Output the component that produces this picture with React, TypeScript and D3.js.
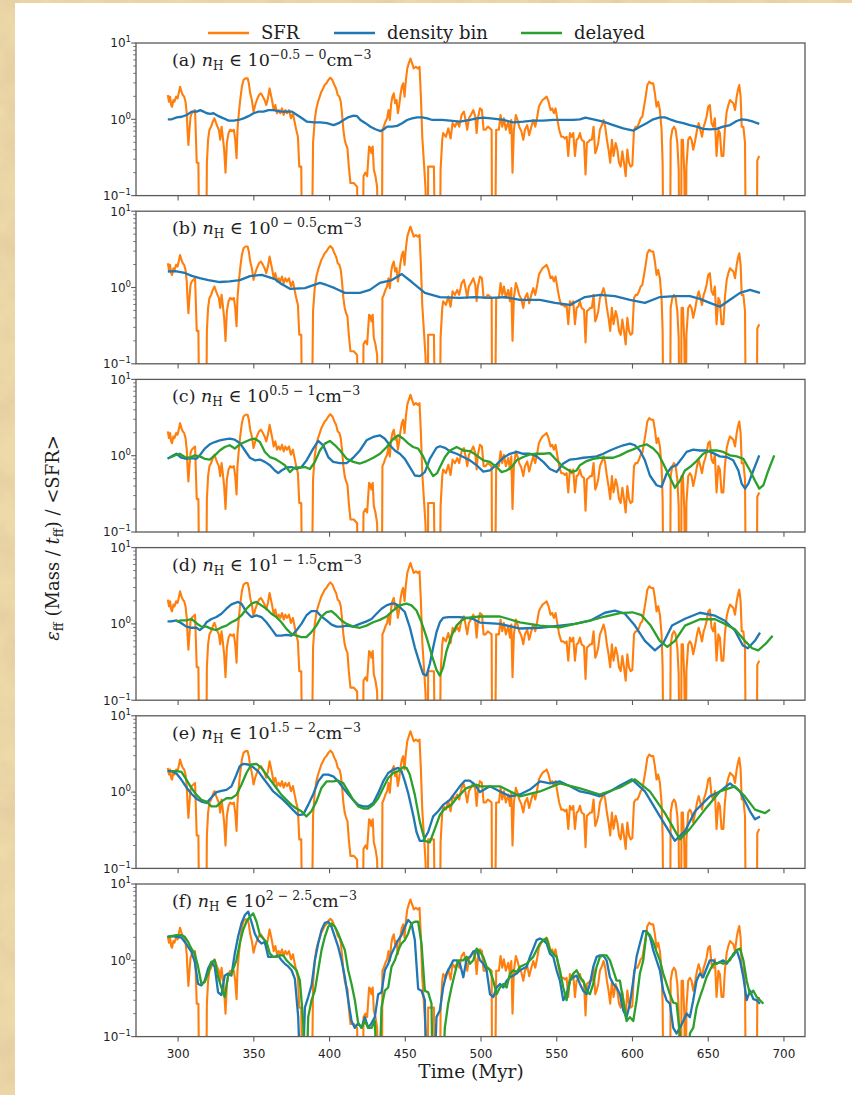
import React from 'react';
import * as d3 from 'd3';

type Pt = [number, number];

// Star formation rate normalised by its mean (same curve in every panel); 0 = no star formation
const sfr: Pt[] = [
  [293.2,2.08],[294.0,1.70],[294.7,1.98],[295.4,1.54],[296.0,1.46],[296.9,1.79],[297.6,1.70],[298.7,1.98],[299.6,1.88],[300.4,2.19],
  [301.3,2.67],[302.2,2.30],[303.1,2.08],[304.0,1.98],[304.9,1.70],[305.7,1.20],[306.2,0.73],[306.8,0.46],[307.5,0.73],[308.2,1.08],
  [309.0,1.20],[310.1,1.26],[311.2,1.32],[312.3,0.27],[313.4,0.27],[314.1,0],[318.5,0],[319.0,0.27],[319.8,0.54],[320.7,0.73],
  [321.8,0.80],[322.9,0.93],[324.0,1.03],[325.1,0.89],[326.0,0.80],[326.9,0.73],[327.8,0.54],[328.7,0.80],[329.5,0.59],[330.4,0.40],
  [331.3,0.20],[332.2,0.49],[333.3,0.66],[334.4,0.73],[335.7,0.70],[336.8,0.73],[337.7,0.54],[338.6,0.31],[339.2,0.73],[340.1,1.20],
  [341.0,1.79],[342.1,2.67],[343.2,3.27],[344.5,3.44],[345.9,3.44],[346.7,2.96],[347.6,2.19],[348.7,1.79],[349.8,1.26],[350.9,1.54],
  [352.0,1.79],[353.4,2.08],[354.7,2.19],[356.0,1.98],[357.1,1.79],[358.2,1.54],[359.3,1.88],[360.4,2.54],[361.3,2.08],[362.2,1.70],
  [363.1,1.32],[364.2,1.54],[365.3,1.20],[366.4,1.32],[367.5,1.20],[368.6,1.39],[369.7,1.14],[370.8,1.32],[371.9,1.20],[373.2,1.32],
  [374.5,1.03],[375.8,1.20],[376.9,0.93],[378.0,0.73],[379.1,0.59],[380.0,0.24],[381.3,0.24],[382.0,0],[388.2,0],[389.1,0.49],
  [390.2,0.98],[391.3,1.39],[392.4,1.70],[393.5,1.98],[394.6,2.30],[395.7,2.54],[396.8,2.81],[397.9,2.96],[399.2,3.27],[400.5,3.5],
  [401.9,3.27],[403.2,2.81],[404.3,2.54],[405.4,2.08],[406.5,1.98],[407.4,1.70],[408.2,1.20],[409.1,0.73],[410.0,0.54],[410.9,0.46],
  [411.8,0.42],[412.7,0.24],[413.8,0.146],[416.0,0.146],[418.2,0.13],[418.8,0],[421.9,0],[422.4,0.18],[423.7,0.2],[424.8,0.18],
  [425.4,0.27],[426.1,0.44],[427.0,0.42],[427.6,0.36],[428.5,0.44],[429.2,0.22],[430.3,0.18],[431.4,0.13],[432.3,0],[434.5,0],
  [434.9,0.73],[435.8,0.80],[436.9,0.93],[438.0,1.03],[438.9,1.32],[439.8,0.98],[440.7,1.62],[441.5,1.98],[442.4,2.19],[443.3,1.62],
  [444.2,1.79],[445.1,1.20],[446.0,1.54],[446.8,2.08],[447.7,2.67],[448.6,2.96],[449.5,1.98],[450.4,3.27],[451.3,4.64],[452.3,5.40],
  [453.4,6.27],[454.5,5.40],[455.6,4.64],[457.0,4.88],[458.3,4.64],[459.4,4.88],[460.3,1.98],[461.2,0.59],[462.3,0.27],[463.4,0.12],
  [464.0,0],[464.8,0],[465.1,0.24],[468.9,0.24],[469.8,0],[472.8,0],[473.3,0.22],[474.4,0.54],[475.0,0.66],[476.8,0.59],
  [478.4,0.76],[479.9,0.56],[481.2,0.89],[482.8,0.80],[484.3,0.93],[485.6,0.80],[487.2,1.14],[488.7,1.26],[489.8,0.98],[490.9,0.73],
  [492.0,1.03],[493.3,1.14],[494.9,1.32],[496.2,1.08],[497.1,0.66],[497.9,1.03],[499.3,1.39],[500.6,1.32],[501.7,0.73],[503.0,0.73],
  [504.5,0.80],[505.9,0.76],[507.0,0.73],[507.4,0],[509.2,0],[510.0,0.73],[511.8,0.73],[512.9,1.14],[514.0,0.80],[515.1,1.03],
  [516.4,0.73],[518.0,0.93],[519.1,0.66],[520.0,0.98],[520.8,0.20],[521.7,0.73],[523.0,1.14],[524.1,0.98],[525.2,0.80],[526.6,0.70],
  [527.9,0.54],[529.0,0.73],[530.5,0.84],[531.8,0.62],[533.2,0.80],[534.5,0.98],[535.8,0.80],[537.1,1.08],[538.2,1.46],[539.3,1.62],
  [540.6,1.79],[542.0,1.88],[543.3,1.98],[544.6,1.70],[545.9,1.32],[547.0,1.39],[548.1,1.20],[549.2,1.39],[550.3,1.03],[551.6,0.73],
  [553.0,0.59],[554.3,0.59],[555.4,0.56],[556.5,0.59],[557.6,0.33],[558.7,0.66],[559.8,0.59],[560.9,0.66],[562.0,0.33],[563.1,0.54],
  [564.2,0.56],[565.3,0.66],[566.4,0.54],[568.0,0.51],[569.0,0.19],[569.9,0.49],[571.0,0.51],[572.1,0.54],[573.2,0.54],[574.3,0.80],
  [575.4,0.36],[576.3,0.40],[577.4,0.49],[578.5,0.73],[579.8,0.84],[580.9,0.98],[582.0,0.80],[583.1,0.54],[584.2,0.40],[585.3,0.27],
  [586.4,0.54],[587.5,0.33],[588.9,0.49],[590.0,0.40],[591.1,0.27],[592.2,0.24],[593.3,0.38],[594.4,0.27],[595.5,0.18],[596.6,0.40],
  [597.7,0.27],[598.8,0.24],[599.9,0.25],[601.0,0.73],[602.1,0.80],[603.2,0.80],[604.3,0.89],[605.4,1.03],[606.5,1.08],[607.6,1.46],
  [608.7,1.98],[609.8,2.81],[611.1,3.11],[612.4,2.96],[613.7,2.96],[614.8,2.19],[615.9,1.46],[617.0,1.70],[618.1,1.32],[619.2,0.73],
  [619.9,0.27],[620.5,0],[624.8,0],[625.2,0.54],[626.3,0.73],[627.4,0.80],[628.5,0.73],[629.6,0.49],[630.5,0.22],[631.1,0],
  [632.0,0],[632.4,0.54],[633.3,0.54],[634.2,0.20],[635.1,0],[635.6,0.24],[636.8,0.54],[637.9,0.59],[639.0,0.54],[640.1,0.40],
  [641.5,0.54],[642.6,0.73],[643.7,0.89],[644.8,0.73],[645.9,0.59],[647.0,0.80],[647.8,0.89],[648.9,1.08],[650.0,1.46],[651.1,1.54],
  [652.2,0.89],[653.3,0.80],[654.4,1.03],[655.5,0.33],[656.7,0.73],[657.7,0.66],[658.8,0.33],[660.0,0.33],[661.0,0.73],[662.2,1.26],
  [663.3,1.54],[664.4,1.79],[665.5,1.70],[666.6,1.62],[667.7,1.32],[668.8,1.98],[669.6,2.42],[670.5,2.81],[671.4,1.98],[672.1,0.80],
  [673.2,0.80],[674.3,0.49],[674.9,0],[682.0,0],[682.4,0.29],[683.7,0.33],
];

// (a) n_H in 10^-0.5 .. 10^0
const binA: Pt[] = [
  [293.2,1.0],[295.8,1.0],[299.1,1.06],[302.4,1.08],[305.7,1.14],[309.0,1.26],[312.3,1.26],[314.6,1.32],[316.8,1.26],[319.0,1.20],
  [321.2,1.18],[323.4,1.20],[326.7,1.10],[330.0,1.03],[333.3,0.96],[336.6,0.96],[339.9,0.98],[343.2,1.03],[346.5,1.10],[349.8,1.20],
  [353.1,1.26],[356.4,1.26],[359.7,1.32],[363.1,1.32],[365.3,1.29],[368.6,1.26],[371.9,1.26],[375.2,1.26],[378.5,1.14],[381.8,1.03],
  [385.1,0.93],[389.5,0.91],[393.9,0.91],[398.3,0.89],[402.7,0.84],[406.0,0.89],[409.3,0.98],[412.6,1.07],[416.0,1.12],[418.2,1.10],
  [420.4,0.98],[423.7,0.89],[427.0,0.80],[430.3,0.74],[433.6,0.70],[435.4,0.73],[438.0,0.80],[441.3,0.80],[444.6,0.82],[447.9,0.89],
  [451.2,0.98],[454.5,1.03],[457.8,1.06],[461.2,1.06],[464.5,1.03],[467.8,0.98],[471.1,0.98],[474.4,0.98],[479.5,0.96],[486.1,0.93],
  [492.7,0.98],[497.1,1.03],[501.5,1.05],[508.1,1.02],[514.7,0.98],[521.3,0.91],[527.9,0.93],[534.5,0.96],[541.1,0.96],[547.7,0.98],
  [554.3,0.98],[560.9,0.98],[565.3,1.0],[569.0,1.05],[574.1,1.0],[580.7,0.93],[587.3,0.84],[593.9,0.76],[600.5,0.71],[604.9,0.80],
  [609.3,0.89],[613.7,1.0],[618.1,1.06],[621.4,1.06],[624.7,1.0],[629.1,0.93],[633.5,0.89],[637.9,0.84],[642.3,0.80],[646.7,0.75],
  [651.1,0.74],[655.5,0.75],[659.9,0.80],[664.4,0.84],[668.8,0.95],[672.1,1.0],[675.4,0.98],[679.8,0.93],[683.7,0.87],
];

// (b) n_H in 10^0 .. 10^0.5
const binB: Pt[] = [
  [293.2,1.62],[298.0,1.64],[304.4,1.55],[309.0,1.42],[314.3,1.33],[320.0,1.25],[327.5,1.18],[334.0,1.20],[340.8,1.25],[347.4,1.41],
  [355.3,1.46],[363.9,1.29],[368.0,1.12],[373.8,0.96],[383.7,0.98],[393.6,1.15],[398.0,1.08],[403.5,0.98],[410.1,0.85],[420.0,0.85],
  [426.6,0.93],[433.2,1.15],[441.1,1.25],[447.7,1.5],[454.3,1.18],[462.9,0.85],[472.8,0.75],[486.0,0.73],[495.9,0.75],[505.9,0.73],
  [515.8,0.75],[525.7,0.69],[538.9,0.69],[548.8,0.63],[558.7,0.59],[568.6,0.75],[578.5,0.80],[588.4,0.77],[598.3,0.69],[608.2,0.63],
  [618.1,0.75],[628.0,0.77],[637.9,0.77],[644.5,0.71],[651.1,0.63],[657.7,0.56],[664.4,0.69],[671.0,0.85],[677.6,0.93],[684.2,0.85],
];

// (c) n_H in 10^0.5 .. 10^1
const binC: Pt[] = [
  [293.0,0.91],[295.6,0.98],[298.9,1.06],[302.2,0.94],[305.5,0.91],[308.8,0.93],[312.1,0.91],[314.3,1.01],[317.6,1.24],[320.9,1.41],
  [324.2,1.51],[327.5,1.59],[330.8,1.64],[334.1,1.67],[337.4,1.62],[340.7,1.47],[344.1,1.17],[347.4,0.94],[350.7,0.87],[354.0,0.89],
  [357.3,0.83],[360.6,0.75],[363.9,0.64],[366.1,0.59],[368.3,0.64],[371.6,0.70],[374.9,0.71],[378.2,0.67],[381.5,0.71],[384.8,0.87],
  [389.2,1.24],[392.5,1.56],[395.8,1.37],[399.1,0.96],[402.4,0.83],[406.8,0.80],[411.2,0.80],[415.6,0.94],[420.0,1.17],[424.4,1.59],
  [428.8,1.76],[433.2,1.85],[436.5,1.67],[439.8,1.37],[443.1,1.17],[446.4,1.06],[449.7,0.91],[453.0,0.71],[456.3,0.55],[459.6,0.54],
  [462.9,0.61],[466.2,0.91],[470.6,1.27],[472.9,1.33],[476.2,1.27],[479.5,1.14],[483.9,1.06],[488.3,0.96],[492.7,0.87],[497.1,0.75],
  [501.5,0.62],[505.9,0.64],[510.3,0.77],[514.7,0.94],[519.1,1.06],[523.5,1.12],[527.9,1.06],[532.3,1.06],[536.7,0.98],[541.1,0.83],
  [545.5,0.67],[549.9,0.61],[554.3,0.79],[558.7,0.89],[563.1,0.91],[567.5,0.94],[571.9,0.96],[576.3,0.98],[580.7,1.06],[585.1,1.17],
  [589.5,1.27],[593.9,1.37],[598.3,1.44],[601.6,1.37],[604.9,1.17],[608.2,0.87],[611.5,0.55],[615.9,0.41],[619.2,0.39],[622.5,0.58],
  [625.8,0.71],[629.1,0.75],[632.4,0.91],[635.7,1.12],[640.1,1.20],[644.5,1.17],[648.9,1.17],[653.3,1.08],[657.7,0.98],[662.1,0.96],
  [666.5,0.87],[669.9,0.64],[672.1,0.43],[674.3,0.37],[676.5,0.43],[679.8,0.64],[683.7,1.01],
];
const delC: Pt[] = [
  [294.5,0.94],[297.8,1.01],[301.1,1.06],[304.4,0.96],[307.7,0.94],[311.0,1.01],[314.3,0.98],[317.6,0.91],[320.9,0.89],[324.2,1.01],
  [327.5,1.17],[330.8,1.30],[334.1,1.37],[337.4,1.24],[340.7,1.41],[344.1,1.51],[347.4,1.62],[350.7,1.67],[354.0,1.51],[357.3,1.12],
  [360.6,0.96],[363.9,0.91],[367.2,0.83],[370.5,0.75],[373.8,0.61],[377.1,0.70],[380.4,0.70],[383.7,0.71],[387.0,0.67],[390.3,0.83],
  [393.6,1.17],[396.9,1.44],[400.2,1.56],[403.6,1.37],[406.9,1.17],[411.3,0.91],[415.7,0.83],[420.1,0.79],[424.5,0.85],[428.9,0.94],
  [433.3,1.06],[437.7,1.30],[442.1,1.67],[445.4,1.85],[448.7,1.67],[451.9,1.45],[455.2,1.30],[458.5,1.24],[461.8,0.98],[465.0,0.70],
  [468.4,0.54],[471.0,0.59],[472.9,0.71],[476.2,0.96],[479.5,1.17],[483.9,1.30],[488.3,1.17],[492.7,1.15],[497.1,1.01],[501.5,0.87],
  [505.9,0.83],[510.3,0.71],[513.6,0.61],[516.9,0.64],[520.2,0.71],[523.5,0.87],[527.9,0.96],[532.3,1.04],[536.7,1.06],[541.1,1.06],
  [545.5,1.08],[549.9,0.87],[554.3,0.71],[559.8,0.61],[563.1,0.64],[565.3,0.75],[569.7,0.85],[574.1,0.91],[578.5,0.94],[582.9,0.94],
  [587.3,0.94],[591.7,1.01],[596.1,1.12],[600.5,1.21],[604.9,1.33],[609.3,1.41],[613.7,1.24],[617.0,1.06],[620.3,0.79],[624.7,0.52],
  [628.0,0.38],[631.3,0.47],[634.6,0.64],[637.9,0.71],[642.3,0.85],[646.7,1.06],[651.1,1.17],[655.5,1.17],[659.9,1.12],[664.4,1.01],
  [668.8,0.98],[673.2,0.91],[677.6,0.64],[680.9,0.47],[683.7,0.37],[686.4,0.41],[689.7,0.64],[693.6,1.01],
];

// (d) n_H in 10^1 .. 10^1.5
const binD: Pt[] = [
  [293.0,1.08],[295.6,1.08],[298.9,1.11],[302.2,1.02],[305.5,0.92],[308.8,0.89],[312.1,0.89],[314.3,0.83],[316.5,0.90],[318.7,1.05],
  [322.0,1.16],[325.3,1.23],[328.6,1.36],[331.9,1.58],[335.2,1.80],[339.6,1.94],[341.8,1.84],[345.1,1.43],[348.4,1.23],[351.7,1.29],
  [355.0,1.23],[358.3,1.05],[361.6,0.86],[364.9,0.70],[368.2,0.70],[371.5,0.72],[374.8,0.70],[378.1,0.82],[381.4,1.0],[384.7,1.29],
  [388.0,1.47],[391.3,1.47],[394.6,1.25],[398.0,1.11],[401.3,0.98],[404.6,0.92],[407.9,0.92],[411.2,0.95],[415.6,0.92],[420.0,1.0],
  [424.4,1.08],[427.7,1.16],[431.0,1.36],[434.3,1.58],[437.6,1.75],[440.9,1.84],[443.1,1.84],[445.3,1.75],[447.5,1.58],[449.7,1.43],
  [453.0,0.90],[456.3,0.49],[459.6,0.30],[461.8,0.22],[464.0,0.21],[466.2,0.30],[468.4,0.49],[470.6,0.78],[472.8,1.05],[475.0,1.20],
  [478.3,1.23],[481.6,1.23],[486.0,1.23],[490.4,1.20],[494.8,1.16],[499.3,1.04],[512.5,1.0],[525.7,0.87],[538.9,0.89],[552.1,0.95],
  [562.0,1.0],[571.9,1.1],[581.8,1.4],[588.4,1.49],[595.0,1.36],[601.6,0.95],[608.2,0.6],[614.8,0.45],[620.1,0.55],[626.1,0.95],
  [634.7,1.17],[644.5,1.4],[654.5,1.28],[661.0,1.1],[667.6,0.82],[672.9,0.52],[676.2,0.48],[680.8,0.6],[684.2,0.77],
];
const delD: Pt[] = [
  [298.9,1.08],[302.2,1.11],[305.5,1.11],[308.8,1.16],[312.1,1.02],[315.4,0.92],[318.7,0.92],[322.0,0.86],[325.3,0.83],[328.6,0.90],
  [331.9,0.95],[335.2,1.05],[338.5,1.13],[341.8,1.29],[345.1,1.58],[348.4,1.84],[351.7,1.94],[355.0,1.75],[358.3,1.58],[361.6,1.36],
  [364.9,1.23],[368.2,1.05],[371.5,0.86],[374.8,0.74],[378.1,0.70],[381.4,0.67],[384.7,0.67],[388.0,0.78],[391.3,0.95],[394.6,1.25],
  [398.0,1.43],[401.3,1.47],[404.6,1.29],[407.9,1.11],[411.2,1.0],[415.6,0.92],[420.0,0.89],[424.4,0.95],[428.8,1.05],[433.2,1.13],
  [437.6,1.25],[442.0,1.50],[446.4,1.75],[450.8,1.84],[454.1,1.75],[457.4,1.50],[460.7,1.05],[464.0,0.67],[467.3,0.40],[470.6,0.25],
  [472.8,0.21],[475.0,0.27],[477.2,0.44],[480.5,0.70],[483.8,0.95],[487.1,1.11],[490.4,1.20],[494.8,1.23],[499.3,1.25],[512.5,1.25],
  [525.7,1.05],[538.9,0.95],[552.1,0.90],[562.0,1.0],[571.9,1.1],[581.8,1.25],[591.7,1.38],[600.0,1.42],[606.0,1.3],[612.0,0.95],
  [618.0,0.6],[623.0,0.5],[628.0,0.6],[634.7,0.95],[644.5,1.15],[654.5,1.15],[661.0,1.0],[667.6,0.85],[674.2,0.6],[679.0,0.48],
  [683.0,0.45],[688.0,0.55],[692.5,0.7],
];

// (e) n_H in 10^1.5 .. 10^2
const binE: Pt[] = [
  [293.0,1.88],[295.6,1.88],[298.9,1.75],[302.2,1.45],[305.5,1.15],[308.8,0.95],[312.1,0.82],[315.4,0.75],[318.7,0.72],[322.0,0.85],
  [325.3,1.0],[328.6,1.04],[331.9,1.07],[335.2,1.19],[338.5,1.69],[340.7,2.18],[342.9,2.34],[346.2,2.30],[349.5,2.12],[352.8,1.88],
  [356.1,1.53],[359.5,1.25],[362.8,1.02],[366.1,0.90],[369.4,0.79],[372.7,0.68],[376.0,0.58],[379.3,0.50],[382.6,0.51],[385.9,0.68],
  [389.2,0.94],[392.5,1.38],[395.8,1.69],[399.1,1.69],[402.4,1.61],[405.7,1.38],[409.0,1.13],[412.3,0.94],[415.6,0.79],[418.9,0.68],
  [422.2,0.65],[425.5,0.65],[428.8,0.72],[432.1,0.97],[435.4,1.38],[438.7,1.78],[442.0,1.97],[445.3,2.08],[447.5,1.88],[449.7,1.38],
  [451.9,0.97],[455.2,0.50],[457.4,0.30],[459.6,0.23],[461.8,0.23],[465.1,0.30],[468.4,0.48],[471.7,0.56],[475.0,0.68],[479.4,0.79],
  [482.7,0.97],[486.0,1.19],[489.3,1.41],[492.6,1.41],[495.9,1.25],[499.3,1.0],[505.9,1.19],[512.5,1.02],[519.1,0.88],[525.7,0.93],
  [532.3,1.08],[538.9,1.38],[545.5,1.3],[552.1,1.38],[558.7,1.19],[565.3,1.02],[571.9,0.96],[578.5,0.88],[585.1,1.02],[591.7,1.22],
  [599.6,1.47],[608.2,1.02],[618.1,0.48],[628.0,0.23],[634.7,0.31],[641.3,0.56],[651.1,0.88],[657.7,1.02],[664.4,1.3],[671.0,1.02],
  [677.6,0.56],[680.9,0.44],[684.2,0.48],
];
const delE: Pt[] = [
  [295.6,1.88],[298.9,1.88],[302.2,1.84],[305.5,1.46],[308.8,1.13],[312.1,0.92],[315.4,0.79],[318.7,0.75],[322.0,0.65],[325.3,0.65],
  [328.6,0.75],[331.9,0.83],[335.2,0.83],[338.5,0.92],[341.8,1.25],[345.1,1.78],[348.4,2.30],[351.7,2.34],[355.0,2.08],[358.3,1.69],
  [361.6,1.38],[364.9,1.13],[368.2,0.92],[371.5,0.79],[374.8,0.68],[378.1,0.61],[381.4,0.56],[384.7,0.48],[388.0,0.56],[391.3,0.75],
  [394.6,1.13],[398.0,1.38],[402.4,1.38],[405.7,1.41],[409.0,1.31],[412.3,1.02],[415.6,0.79],[418.9,0.65],[422.2,0.61],[425.5,0.61],
  [428.8,0.68],[432.1,0.83],[435.4,1.13],[438.7,1.53],[442.0,1.78],[445.3,1.88],[448.6,2.12],[450.8,2.08],[453.0,1.69],[456.3,0.92],
  [459.6,0.41],[462.9,0.23],[466.2,0.22],[469.5,0.33],[472.8,0.50],[476.1,0.61],[480.5,0.68],[483.8,0.83],[487.1,0.97],[490.4,1.13],
  [493.7,1.19],[497.0,1.25],[499.3,1.19],[512.5,1.19],[525.7,0.88],[538.9,1.02],[552.1,1.3],[565.3,1.12],[578.5,0.93],[591.7,1.15],
  [601.6,1.47],[611.5,1.02],[621.4,0.53],[631.3,0.24],[637.9,0.33],[647.8,0.59],[657.7,1.02],[667.6,1.19],[674.2,0.88],[680.9,0.59],
  [687.5,0.53],[690.8,0.59],
];

// (f) n_H in 10^2 .. 10^2.5
const binF: Pt[] = [
  [293.0,2.03],[295.6,2.07],[298.9,2.03],[302.2,1.99],[304.4,1.74],[306.6,1.50],[308.8,1.29],[311.0,0.95],[313.2,0.49],[315.4,0.47],
  [317.6,0.54],[319.8,0.78],[322.0,0.95],[324.2,0.82],[326.4,0.38],[328.6,0.35],[330.8,0.63],[333.0,0.67],[335.2,0.63],[337.4,1.22],
  [339.6,2.03],[341.8,3.04],[344.1,3.92],[346.3,4.34],[348.4,3.20],[350.6,2.25],[352.8,1.84],[355.0,1.66],[357.2,1.74],[359.5,1.11],
  [361.7,1.11],[363.9,1.11],[366.1,1.16],[368.3,1.0],[370.5,0.90],[372.7,0.83],[374.9,0.74],[377.1,0.57],[379.3,0.18],[381.5,0],
  [383.7,0.24],[385.9,0.33],[388.1,0.47],[390.3,1.0],[392.5,1.66],[394.7,2.49],[396.9,3.10],[399.1,3.20],[401.3,2.75],[403.5,2.03],
  [405.7,1.50],[407.9,1.0],[410.1,0.60],[412.3,0.30],[414.5,0.16],[416.7,0.13],[418.9,0.15],[421.1,0.13],[423.3,0.18],[425.5,0.13],
  [427.7,0.15],[429.9,0.18],[432.1,0.36],[434.3,0.38],[436.5,0.74],[438.7,0.90],[440.9,1.22],[443.1,1.50],[445.3,1.84],[447.5,2.14],
  [449.7,2.75],[451.9,3.37],[454.1,3.04],[456.3,1.84],[458.5,0.42],[460.7,0.40],[462.9,0.30],[464.4,0],[468.4,0],[470.6,0.18],
  [472.8,0.22],[475.0,0.44],[477.2,0.67],[479.5,0.82],[481.7,1.0],[483.9,1.0],[486.1,0.90],[488.3,0.60],[490.5,1.05],[492.7,1.11],
  [494.9,1.29],[497.1,1.36],[499.3,1.0],[501.5,0.90],[503.7,0.74],[505.9,0.36],[508.1,0.33],[510.3,0.44],[512.5,0.49],[514.7,0.44],
  [516.9,0.54],[519.1,0.60],[521.3,0.63],[523.5,0.67],[525.7,0.74],[527.9,0.78],[530.1,0.82],[532.3,1.11],[534.5,1.42],[536.7,1.84],
  [538.9,1.93],[541.1,1.84],[543.3,1.66],[545.5,1.22],[547.7,1.11],[549.9,0.74],[552.1,0.54],[554.3,0.30],[556.5,0.36],[558.7,0.54],
  [560.9,0.60],[563.1,0.63],[565.3,0.49],[567.5,0.40],[569.7,0.36],[571.9,0.49],[574.1,0.82],[576.3,1.11],[578.5,1.16],[580.7,1.16],
  [582.9,1.0],[585.1,0.60],[587.3,0.49],[589.5,0.44],[591.7,0.36],[593.9,0.22],[596.1,0.18],[598.3,0.27],[600.5,0.54],[602.7,1.11],
  [604.9,1.66],[607.1,2.41],[609.3,2.41],[611.5,2.03],[613.7,1.36],[615.9,1.0],[618.1,0.74],[620.3,0.40],[622.5,0.30],[624.7,0.27],
  [626.9,0.13],[629.1,0.11],[631.3,0.13],[633.5,0.16],[635.7,0.20],[637.9,0.18],[640.1,0.30],[642.3,0.54],[644.5,0.67],[646.7,0.60],
  [648.9,0.78],[651.1,1.0],[653.3,1.0],[655.5,0.90],[657.7,0.95],[659.9,1.0],[662.2,0.90],[664.4,1.05],[666.6,1.16],[668.8,1.36],
  [671.0,1.0],[673.2,0.60],[675.4,0.30],[677.6,0.40],[679.8,0.31],[682.0,0.30],[684.2,0.27],
];
const delF: Pt[] = [
  [293.0,2.03],[295.6,2.07],[298.9,2.14],[302.2,2.14],[304.4,2.03],[306.6,1.74],[308.8,1.42],[311.0,1.22],[313.2,0.82],[315.4,0.49],
  [317.6,0.52],[319.8,0.67],[322.0,0.95],[324.2,1.0],[326.4,0.60],[328.6,0.44],[330.8,0.33],[333.0,0.63],[335.2,0.67],[338.5,1.0],
  [340.7,1.66],[342.9,2.49],[345.1,3.20],[347.4,3.72],[349.6,4.12],[351.8,3.20],[354.0,2.14],[356.2,1.93],[358.4,1.74],[360.6,1.22],
  [362.8,1.11],[365.0,1.11],[367.2,1.16],[369.4,1.16],[371.6,1.0],[373.8,0.90],[376.0,0.82],[378.2,0.74],[380.4,0.54],[382.6,0.16],
  [384.1,0],[385.9,0.18],[388.1,0.30],[390.3,0.40],[392.5,0.74],[394.7,1.36],[396.9,2.03],[399.1,2.75],[401.3,3.04],[403.5,2.75],
  [405.7,2.25],[407.9,1.74],[410.1,1.36],[412.3,0.74],[414.5,0.49],[416.7,0.30],[418.9,0.15],[421.1,0.13],[423.3,0.16],[425.5,0.13],
  [427.7,0.13],[429.9,0.16],[432.1,0],[434.3,0.24],[436.5,0.40],[438.7,0.44],[440.9,0.82],[443.1,1.0],[445.3,1.36],[447.5,1.66],
  [449.7,1.84],[451.9,2.25],[454.1,3.04],[456.3,3.20],[458.5,3.20],[460.7,1.66],[462.9,0.40],[465.1,0.38],[467.3,0.27],[468.4,0],
  [473.9,0],[476.1,0.13],[478.3,0.27],[480.5,0.44],[482.7,0.67],[484.9,1.0],[487.1,1.0],[488.3,1.0],[490.5,1.11],[492.7,0.90],
  [494.9,1.0],[497.1,1.42],[499.3,1.29],[501.5,1.11],[503.7,0.82],[505.9,0.74],[508.1,0.54],[510.3,0.36],[512.5,0.44],[514.7,0.49],
  [516.9,0.44],[519.1,0.67],[521.3,0.74],[523.5,0.70],[525.7,0.82],[527.9,0.86],[530.1,0.90],[532.3,1.0],[534.5,1.11],[536.7,1.36],
  [538.9,1.66],[541.1,1.84],[543.3,1.93],[545.5,1.36],[547.7,1.22],[549.9,1.11],[552.1,0.74],[554.3,0.44],[556.5,0.30],[558.7,0.54],
  [560.9,0.67],[563.1,0.74],[565.3,0.60],[567.5,0.54],[569.7,0.40],[571.9,0.36],[574.1,0.49],[576.3,0.82],[578.5,1.11],[580.7,1.16],
  [582.9,1.16],[585.1,1.0],[587.3,0.74],[589.5,0.54],[591.7,0.54],[593.9,0.30],[596.1,0.16],[598.3,0.18],[600.5,0.16],[602.7,0.30],
  [604.9,0.67],[607.1,1.0],[609.3,2.36],[611.5,2.14],[613.7,1.74],[615.9,1.29],[618.1,1.0],[620.3,0.67],[622.5,0.49],[624.7,0.36],
  [626.9,0.28],[629.1,0.27],[631.3,0.11],[633.5,0],[635.7,0],[637.9,0.11],[640.1,0.13],[642.3,0.24],[644.5,0.33],[646.7,0.44],
  [648.9,0.60],[651.1,0.74],[653.3,0.90],[655.5,0.90],[657.7,0.95],[659.9,0.90],[662.2,0.95],[664.4,1.0],[666.6,1.22],[668.8,1.36],
  [671.0,1.42],[673.2,1.0],[675.4,0.54],[677.6,0.36],[679.8,0.40],[682.0,0.33],[684.2,0.30],[686.4,0.27],
];

const panelTags = ['(a)', '(b)', '(c)', '(d)', '(e)', '(f)'];
const binRanges = ['\u22120.5 \u2212 0', '0 \u2212 0.5', '0.5 \u2212 1', '1 \u2212 1.5', '1.5 \u2212 2', '2 \u2212 2.5'];
const binSeries: Pt[][] = [binA, binB, binC, binD, binE, binF];
const delayedSeries: (Pt[] | null)[] = [null, null, delC, delD, delE, delF];

const xTicks = [300, 350, 400, 450, 500, 550, 600, 650, 700];
const yMajor = [0.1, 1, 10];
const yMajorExp = ['\u22121', '0', '1'];
const yMinor = [0.2, 0.3, 0.4, 0.5, 0.6, 0.7, 0.8, 0.9, 2, 3, 4, 5, 6, 7, 8, 9];

const legendItems = [
  { label: 'SFR', color: '#ff7f0e', x0: 208 },
  { label: 'density bin', color: '#1f77b4', x0: 334 },
  { label: 'delayed', color: '#2ca02c', x0: 521 },
];

const W = 852;
const H = 1095;
const LEFT = 136;
const RIGHT = 805;
const TOP0 = 43;
const STEP = 168.2;
const PH = 152.6;
const AXIS = '#5a5a5a';
const INK = '#1e1e1e';
const SERIF = 'DejaVu Serif';
const SANS = 'DejaVu Sans';

export default function App() {
  const x = d3.scaleLinear().domain([272.2, 713.9]).range([LEFT, RIGHT]);

  return (
    <svg width={W} height={H} style={{ position: 'absolute', left: 0, top: 0, display: 'block' }}>
      <defs>
        <filter id="parchment" x="0" y="0" width="100%" height="100%">
          <feTurbulence type="fractalNoise" baseFrequency="0.03" numOctaves={4} seed={7} result="n" />
          <feColorMatrix in="n" type="matrix"
            values="0 0 0 0 0.78  0 0 0 0 0.62  0 0 0 0 0.36  1.8 0 0 0 -0.55" />
        </filter>
        {panelTags.map((_, i) => (
          <clipPath id={`clip${i}`} key={i}>
            <rect x={LEFT} y={TOP0 + i * STEP} width={RIGHT - LEFT} height={PH} />
          </clipPath>
        ))}
      </defs>

      {/* paper background with the white figure sheet on top */}
      <rect width={W} height={H} fill="#eed9a8" />
      <rect width={W} height={H} filter="url(#parchment)" />
      <rect x={15} y={3} width={W - 15} height={H - 3} fill="#ffffff" />

      {/* legend */}
      {legendItems.map((it) => (
        <g key={it.label}>
          <line x1={it.x0} x2={it.x0 + 41} y1={33} y2={33} stroke={it.color} strokeWidth={2.6} />
          <text x={it.x0 + 53} y={39} fontFamily={SERIF} fontSize={18} fill={INK}>{it.label}</text>
        </g>
      ))}

      {panelTags.map((tag, i) => {
        const top = TOP0 + i * STEP;
        const bottom = top + PH;
        const y = d3.scaleLog().domain([0.1, 10]).range([bottom, top]);
        const line = d3.line<Pt>()
          .x((d) => x(d[0]))
          .y((d) => y(Math.max(d[1], 0.01)));
        const del = delayedSeries[i];
        return (
          <g key={tag}>
            <g clipPath={`url(#clip${i})`} fill="none" strokeLinejoin="round" strokeLinecap="butt">
              <path d={line(sfr) ?? ''} stroke="#ff7f0e" strokeWidth={2.1} />
              <path d={line(binSeries[i]) ?? ''} stroke="#1f77b4" strokeWidth={2.3} />
              {del && <path d={line(del) ?? ''} stroke="#2ca02c" strokeWidth={2.3} />}
            </g>

            <rect x={LEFT} y={top} width={RIGHT - LEFT} height={PH} fill="none" stroke={AXIS} strokeWidth={1.3} />

            {xTicks.map((t) => (
              <line key={t} x1={x(t)} x2={x(t)} y1={bottom} y2={bottom + 4.8} stroke={AXIS} strokeWidth={1.1} />
            ))}
            {yMajor.map((v, k) => (
              <g key={v}>
                <line x1={LEFT - 4.8} x2={LEFT} y1={y(v)} y2={y(v)} stroke={AXIS} strokeWidth={1.1} />
                <text x={131} y={y(v) + 4.3} textAnchor="end" fontFamily={SANS} fontSize={12} fill={INK}>
                  10<tspan dy={-5} fontSize={8.6}>{yMajorExp[k]}</tspan>
                </text>
              </g>
            ))}
            {yMinor.map((v) => (
              <line key={v} x1={LEFT - 2.8} x2={LEFT} y1={y(v)} y2={y(v)} stroke={AXIS} strokeWidth={0.8} />
            ))}

            <text x={172} y={top + 23} fontFamily={SERIF} fontSize={17.5} fill={INK}>
              {tag} <tspan fontStyle="italic">n</tspan>
              <tspan fontSize={12} dy={4}>H</tspan>
              <tspan dy={-4}> {'\u2208'} 10</tspan>
              <tspan fontSize={12.5} dy={-7}>{binRanges[i]}</tspan>
              <tspan dy={7}>cm</tspan>
              <tspan fontSize={12.5} dy={-7}>{'\u22123'}</tspan>
            </text>

            {i === panelTags.length - 1 && xTicks.map((t) => (
              <text key={t} x={x(t)} y={bottom + 21} textAnchor="middle" fontFamily={SANS} fontSize={12} fill={INK}>{t}</text>
            ))}
          </g>
        );
      })}

      <text x={471} y={1078} textAnchor="middle" fontFamily={SERIF} fontSize={18.5} fill={INK}>Time (Myr)</text>

      <text transform="translate(59,538) rotate(-90)" textAnchor="middle" fontFamily={SERIF} fontSize={18} fill={INK}>
        <tspan fontStyle="italic">{'\u03b5'}</tspan>
        <tspan fontSize={12.5} dy={3.5}>ff</tspan>
        <tspan dy={-3.5}> (Mass / </tspan>
        <tspan fontStyle="italic">t</tspan>
        <tspan fontSize={12.5} dy={3.5}>ff</tspan>
        <tspan dy={-3.5}>) / &lt;SFR&gt;</tspan>
      </text>
    </svg>
  );
}
